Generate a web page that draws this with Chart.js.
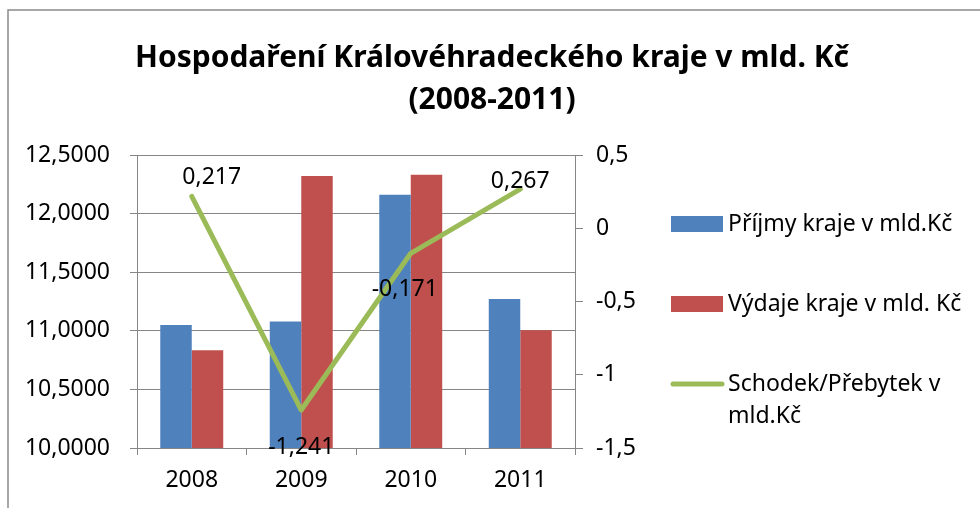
<!DOCTYPE html>
<html>
<head>
<meta charset="utf-8">
<script src="https://cdn.jsdelivr.net/npm/chart.js@4/dist/chart.umd.min.js"></script>
<style>
  html, body { margin: 0; padding: 0; background: #fff; }
  #wrap { width: 980px; height: 508px; position: relative; }
</style>
</head>
<body>
<div id="wrap"><canvas id="c" width="980" height="508"></canvas></div>
<script>
// ---- data ----
const titleLines = ['Hospodaření Královéhradeckého kraje v mld. Kč', '(2008-2011)'];
const categories = ['2008', '2009', '2010', '2011'];
const prijmy = [11.050, 11.079, 12.160, 11.272];
const vydaje = [10.833, 12.320, 12.331, 11.005];
const saldo = [0.217, -1.241, -0.171, 0.267];
const saldoLabels = ['0,217', '-1,241', '-0,171', '0,267'];
const leftTickLabels = ['10,0000', '10,5000', '11,0000', '11,5000', '12,0000', '12,5000'];
const rightTickLabels = ['-1,5', '-1', '-0,5', '0', '0,5'];
const seriesNames = ['Příjmy kraje v mld.Kč', 'Výdaje kraje v mld. Kč', 'Schodek/Přebytek v mld.Kč'];

const FONT = "'Noto Sans', 'Open Sans', sans-serif";
const GRID = '#868686';
const TXT = 23;

const bgBorder = {
  id: 'bgBorder',
  beforeDraw(chart) {
    const ctx = chart.ctx;
    ctx.save();
    ctx.fillStyle = '#fff';
    ctx.fillRect(0, 0, chart.width, chart.height);
    ctx.strokeStyle = '#8a8a8a';
    ctx.lineWidth = 1.5;
    ctx.beginPath();
    ctx.moveTo(8, chart.height + 2);
    ctx.lineTo(8, 10);
    ctx.lineTo(chart.width + 2, 10);
    ctx.stroke();
    ctx.restore();
  }
};

const wideTitle = {
  id: 'wideTitle',
  afterDraw(chart, args, opts) {
    const ctx = chart.ctx;
    ctx.save();
    ctx.font = opts.font;
    ctx.fillStyle = '#000';
    ctx.textAlign = 'center';
    ctx.textBaseline = 'middle';
    opts.lines.forEach((ln, i) => ctx.fillText(ln, opts.x, opts.y + i * opts.lineH));
    ctx.restore();
  }
};

const pointLabels = {
  id: 'pointLabels',
  afterDatasetsDraw(chart, args, opts) {
    const ctx = chart.ctx;
    const meta = chart.getDatasetMeta(opts.datasetIndex);
    ctx.save();
    ctx.font = opts.font;
    ctx.fillStyle = '#000';
    ctx.textAlign = 'center';
    ctx.textBaseline = 'middle';
    meta.data.forEach((el, i) => {
      const off = opts.offsets[i] || [0, 0];
      ctx.fillText(opts.labels[i], el.x + off[0], el.y + off[1]);
    });
    ctx.restore();
  }
};

const sideLegend = {
  id: 'sideLegend',
  afterDraw(chart, args, opts) {
    const ctx = chart.ctx;
    ctx.save();
    ctx.font = opts.font;
    ctx.fillStyle = '#000';
    ctx.textBaseline = 'middle';
    ctx.textAlign = 'left';
    chart.data.datasets.forEach((ds, i) => {
      const yc = opts.rows[i];
      if (ds.type === 'line') {
        ctx.strokeStyle = ds.borderColor;
        ctx.lineWidth = 5;
        ctx.lineCap = 'round';
        ctx.beginPath();
        ctx.moveTo(opts.boxX + 2, yc);
        ctx.lineTo(opts.boxX + opts.boxW - 1, yc);
        ctx.stroke();
      } else {
        ctx.fillStyle = ds.backgroundColor;
        ctx.fillRect(opts.boxX, yc - 8, opts.boxW, 16);
      }
      ctx.fillStyle = '#000';
      const words = ds.label.split(' ');
      const lines = [];
      let cur = '';
      words.forEach(w => {
        const test = cur ? cur + ' ' + w : w;
        if (ctx.measureText(test).width > opts.maxWidth && cur) {
          lines.push(cur); cur = w;
        } else cur = test;
      });
      if (cur) lines.push(cur);
      lines.forEach((ln, k) => ctx.fillText(ln, opts.textX, yc + k * opts.lineH));
    });
    ctx.restore();
  }
};

new Chart(document.getElementById('c'), {
  type: 'bar',
  data: {
    labels: categories,
    datasets: [
      { type: 'bar', label: seriesNames[0], data: prijmy, backgroundColor: '#4F81BD', yAxisID: 'y', order: 1,
        categoryPercentage: 0.575, barPercentage: 1.0 },
      { type: 'bar', label: seriesNames[1], data: vydaje, backgroundColor: '#C0504D', yAxisID: 'y', order: 1,
        categoryPercentage: 0.575, barPercentage: 1.0 },
      { type: 'line', label: seriesNames[2], data: saldo, borderColor: '#9BBB59', backgroundColor: '#9BBB59',
        borderWidth: 5, pointRadius: 0, tension: 0, yAxisID: 'y1', order: 0,
        borderCapStyle: 'round', borderJoinStyle: 'round' }
    ]
  },
  options: {
    responsive: false,
    animation: false,
    layout: { padding: { left: 0, right: 345, top: 155, bottom: 0 } },
    scales: {
      x: {
        offset: true,
        grid: { offset: true, drawOnChartArea: false, color: GRID, tickLength: 7, tickColor: GRID },
        border: { color: GRID, width: 1 },
        ticks: { font: { family: FONT, size: TXT }, color: '#000', padding: 12 },
        afterFit(s) { s.height = 60; }
      },
      y: {
        position: 'left',
        min: 10, max: 12.5,
        grid: { color: GRID, tickLength: 7, tickColor: GRID },
        border: { color: GRID, width: 1 },
        ticks: { stepSize: 0.5, font: { family: FONT, size: TXT }, color: '#000', padding: 20,
          callback: (v, i) => leftTickLabels[i] },
        afterFit(s) { s.width = 137; }
      },
      y1: {
        position: 'right',
        min: -1.5, max: 0.5,
        grid: { drawOnChartArea: false, color: GRID, tickLength: 8, tickColor: GRID },
        border: { color: GRID, width: 1 },
        ticks: { stepSize: 0.5, font: { family: FONT, size: TXT }, color: '#000', padding: 13,
          callback: (v, i) => rightTickLabels[i] },
        afterFit(s) { s.width = 60; }
      }
    },
    plugins: {
      legend: { display: false },
      tooltip: { enabled: false },
      title: { display: false },
      wideTitle: {
        lines: titleLines,
        font: "bold 30px " + FONT,
        x: 492, y: 58, lineH: 42
      },
      pointLabels: {
        datasetIndex: 2,
        labels: saldoLabels,
        font: TXT + "px " + FONT,
        offsets: [[20, -19], [0, 37], [-6, 36], [0, -8]]
      },
      sideLegend: {
        font: TXT + "px " + FONT,
        rows: [224, 304, 384],
        boxX: 671, boxW: 52,
        textX: 728, maxWidth: 248, lineH: 32
      }
    }
  },
  plugins: [bgBorder, wideTitle, pointLabels, sideLegend]
});
</script>
</body>
</html>
